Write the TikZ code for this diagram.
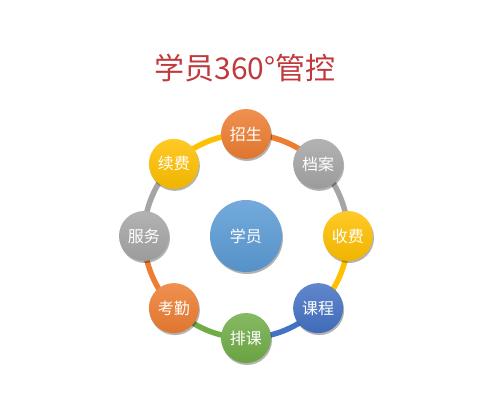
\documentclass[tikz,border=0pt]{standalone}
\usepackage{fontspec}
\setmainfont{Noto Sans CJK SC}
\usetikzlibrary{shadows}
\definecolor{corange}{HTML}{ED7D31}
\definecolor{cgray}{HTML}{A5A5A5}
\definecolor{cyellow}{HTML}{FFC000}
\definecolor{cblue}{HTML}{4472C4}
\definecolor{cgreen}{HTML}{70AD47}
\definecolor{clblue}{HTML}{5B9BD5}
\definecolor{ctitle}{RGB}{192,57,60}
\begin{document}
\begin{tikzpicture}[x=1pt,y=1pt,
  ball/.style 2 args={circle, minimum size=#2, inner sep=0pt, text=white,
    font=\fontsize{16}{16}\selectfont,
    top color=#1!85!white, bottom color=#1!94!black,
    drop shadow={shadow xshift=1pt, shadow yshift=-2pt, opacity=0.3, fill=black}},
  ring/.style={line width=5.5pt, draw=#1}]
\useasboundingbox (-246,-164) rectangle (234,236);
\node[font=\fontsize{30}{30}\selectfont, text=ctitle] (title) at (-1,168) {学员360°管控};
\coordinate (c) at (0,0);
% ring arcs
\draw[ring=corange] (c) ++(90:102) arc[start angle=90, end angle=45, radius=102];
\draw[ring=cgray] (c) ++(45:102) arc[start angle=45, end angle=0, radius=102];
\draw[ring=cyellow] (c) ++(0:102) arc[start angle=0, end angle=-45, radius=102];
\draw[ring=cblue] (c) ++(-45:102) arc[start angle=-45, end angle=-90, radius=102];
\draw[ring=cgreen] (c) ++(-90:102) arc[start angle=-90, end angle=-135, radius=102];
\draw[ring=corange] (c) ++(-135:102) arc[start angle=-135, end angle=-180, radius=102];
\draw[ring=cgray] (c) ++(180:102) arc[start angle=180, end angle=135, radius=102];
\draw[ring=cyellow] (c) ++(135:102) arc[start angle=135, end angle=90, radius=102];
% nodes
\node[ball={clblue}{72pt}] (center) at (c) {学员};
\node[ball={corange}{50pt}] (zs) at (90:102) {招生};
\node[ball={cgray}{50pt}] (da) at (45:102) {档案};
\node[ball={cyellow}{50pt}] (sf) at (0:102) {收费};
\node[ball={cblue}{50pt}] (kc) at (-45:102) {课程};
\node[ball={cgreen}{50pt}] (pk) at (-90:102) {排课};
\node[ball={corange}{50pt}] (kq) at (-135:102) {考勤};
\node[ball={cgray}{50pt}] (fw) at (180:102) {服务};
\node[ball={cyellow}{50pt}] (xf) at (135:102) {续费};
\end{tikzpicture}
\end{document}
